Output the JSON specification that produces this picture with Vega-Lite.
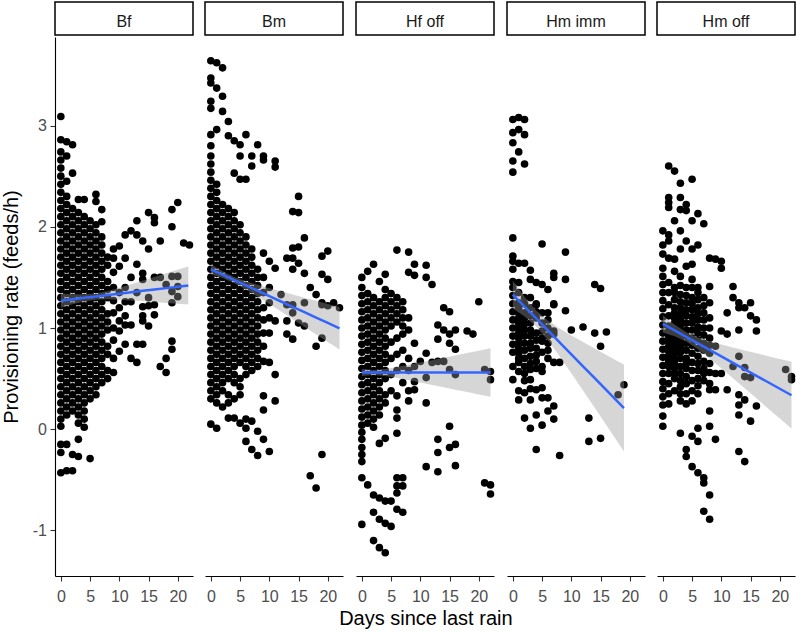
{
"$schema":"https://vega.github.io/schema/vega-lite/v6.json",
"padding":{"left":1,"top":1,"right":0,"bottom":0},
"title":{"text":"Days since last rain","orient":"bottom","anchor":"middle","dx":27,"offset":5,"font":"Liberation Sans","fontSize":20,"fontWeight":"normal","color":"#000000"},
"config":{"view":{"stroke":null},"font":"Liberation Sans",
"axis":{"grid":false,"domainColor":"#000000","domainWidth":1.1,"tickColor":"#333333","tickWidth":1.1,"tickSize":5,"labelFont":"Liberation Sans","labelFontSize":16,"labelColor":"#4D4D4D","labelFlush":false,"labelOverlap":false,"titleFont":"Liberation Sans","titleFontSize":20,"titleFontWeight":"normal","titleColor":"#000000"}},
"datasets":{
"bf":[{"d":0,"r":0.03},{"d":0,"r":0.10},{"d":0,"r":0.18},{"d":0,"r":0.26},{"d":0,"r":0.34},{"d":0,"r":0.42},{"d":0,"r":0.50},{"d":0,"r":0.58},{"d":0,"r":0.66},{"d":0,"r":0.74},{"d":0,"r":0.82},{"d":0,"r":0.90},{"d":0,"r":0.98},{"d":0,"r":1.06},{"d":0,"r":1.14},{"d":0,"r":1.22},{"d":0,"r":1.30},{"d":0,"r":1.38},{"d":0,"r":1.46},{"d":0,"r":1.54},{"d":0,"r":1.62},{"d":0,"r":1.70},{"d":0,"r":1.78},{"d":0,"r":1.86},{"d":0,"r":1.94},{"d":0,"r":2.02},{"d":0,"r":2.10},{"d":0,"r":2.18},{"d":0,"r":2.26},{"d":0,"r":2.34},{"d":0,"r":2.42},{"d":0,"r":2.50},{"d":0,"r":2.58},{"d":0,"r":2.66},{"d":0,"r":2.74},{"d":0,"r":2.86},{"d":0,"r":3.09},{"d":0,"r":-0.15},{"d":0,"r":-0.23},{"d":0,"r":-0.43},
{"d":1,"r":-0.41},{"d":1,"r":-0.15},{"d":1,"r":0.14},{"d":1,"r":0.22},{"d":1,"r":0.30},{"d":1,"r":0.38},{"d":1,"r":0.46},{"d":1,"r":0.54},{"d":1,"r":0.62},{"d":1,"r":0.70},{"d":1,"r":0.78},{"d":1,"r":0.86},{"d":1,"r":0.94},{"d":1,"r":1.02},{"d":1,"r":1.10},{"d":1,"r":1.18},{"d":1,"r":1.26},{"d":1,"r":1.34},{"d":1,"r":1.42},{"d":1,"r":1.50},{"d":1,"r":1.58},{"d":1,"r":1.66},{"d":1,"r":1.74},{"d":1,"r":1.82},{"d":1,"r":1.90},{"d":1,"r":1.98},{"d":1,"r":2.06},{"d":1,"r":2.14},{"d":1,"r":2.22},{"d":1,"r":2.30},{"d":1,"r":2.45},{"d":1,"r":2.70},{"d":1,"r":2.84},
{"d":2,"r":-0.41},{"d":2,"r":-0.25},{"d":2,"r":0.18},{"d":2,"r":0.26},{"d":2,"r":0.34},{"d":2,"r":0.42},{"d":2,"r":0.50},{"d":2,"r":0.58},{"d":2,"r":0.66},{"d":2,"r":0.74},{"d":2,"r":0.82},{"d":2,"r":0.90},{"d":2,"r":0.98},{"d":2,"r":1.06},{"d":2,"r":1.14},{"d":2,"r":1.22},{"d":2,"r":1.30},{"d":2,"r":1.38},{"d":2,"r":1.46},{"d":2,"r":1.54},{"d":2,"r":1.62},{"d":2,"r":1.70},{"d":2,"r":1.78},{"d":2,"r":1.86},{"d":2,"r":1.94},{"d":2,"r":2.02},{"d":2,"r":2.10},{"d":2,"r":2.18},{"d":2,"r":2.53},{"d":2,"r":2.81},
{"d":3,"r":-0.27},{"d":3,"r":-0.10},{"d":3,"r":0.06},{"d":3,"r":0.14},{"d":3,"r":0.22},{"d":3,"r":0.30},{"d":3,"r":0.38},{"d":3,"r":0.46},{"d":3,"r":0.54},{"d":3,"r":0.62},{"d":3,"r":0.70},{"d":3,"r":0.78},{"d":3,"r":0.86},{"d":3,"r":0.94},{"d":3,"r":1.02},{"d":3,"r":1.10},{"d":3,"r":1.18},{"d":3,"r":1.26},{"d":3,"r":1.34},{"d":3,"r":1.42},{"d":3,"r":1.50},{"d":3,"r":1.58},{"d":3,"r":1.66},{"d":3,"r":1.74},{"d":3,"r":1.82},{"d":3,"r":1.90},{"d":3,"r":1.98},{"d":3,"r":2.06},{"d":3,"r":2.14},{"d":3,"r":2.27},
{"d":4,"r":0.02},{"d":4,"r":0.10},{"d":4,"r":0.18},{"d":4,"r":0.26},{"d":4,"r":0.34},{"d":4,"r":0.42},{"d":4,"r":0.50},{"d":4,"r":0.58},{"d":4,"r":0.66},{"d":4,"r":0.74},{"d":4,"r":0.82},{"d":4,"r":0.90},{"d":4,"r":0.98},{"d":4,"r":1.06},{"d":4,"r":1.14},{"d":4,"r":1.22},{"d":4,"r":1.30},{"d":4,"r":1.38},{"d":4,"r":1.46},{"d":4,"r":1.54},{"d":4,"r":1.62},{"d":4,"r":1.70},{"d":4,"r":1.78},{"d":4,"r":1.86},{"d":4,"r":1.94},{"d":4,"r":2.02},{"d":4,"r":2.10},{"d":4,"r":2.27},
{"d":5,"r":-0.29},{"d":5,"r":0.30},{"d":5,"r":0.38},{"d":5,"r":0.46},{"d":5,"r":0.54},{"d":5,"r":0.62},{"d":5,"r":0.70},{"d":5,"r":0.78},{"d":5,"r":0.86},{"d":5,"r":0.94},{"d":5,"r":1.02},{"d":5,"r":1.10},{"d":5,"r":1.18},{"d":5,"r":1.26},{"d":5,"r":1.34},{"d":5,"r":1.42},{"d":5,"r":1.50},{"d":5,"r":1.58},{"d":5,"r":1.66},{"d":5,"r":1.74},{"d":5,"r":1.82},{"d":5,"r":1.90},{"d":5,"r":1.98},{"d":5,"r":2.06},
{"d":6,"r":0.34},{"d":6,"r":0.42},{"d":6,"r":0.50},{"d":6,"r":0.58},{"d":6,"r":0.66},{"d":6,"r":0.74},{"d":6,"r":0.82},{"d":6,"r":0.90},{"d":6,"r":0.98},{"d":6,"r":1.06},{"d":6,"r":1.14},{"d":6,"r":1.22},{"d":6,"r":1.30},{"d":6,"r":1.38},{"d":6,"r":1.46},{"d":6,"r":1.54},{"d":6,"r":1.62},{"d":6,"r":1.70},{"d":6,"r":1.78},{"d":6,"r":1.86},{"d":6,"r":1.94},{"d":6,"r":2.02},{"d":6,"r":2.25},{"d":6,"r":2.32},
{"d":7,"r":0.46},{"d":7,"r":0.54},{"d":7,"r":0.62},{"d":7,"r":0.70},{"d":7,"r":0.78},{"d":7,"r":0.86},{"d":7,"r":0.94},{"d":7,"r":1.02},{"d":7,"r":1.10},{"d":7,"r":1.18},{"d":7,"r":1.26},{"d":7,"r":1.34},{"d":7,"r":1.42},{"d":7,"r":1.50},{"d":7,"r":1.58},{"d":7,"r":1.66},{"d":7,"r":1.74},{"d":7,"r":1.82},{"d":7,"r":1.90},{"d":7,"r":2.05},{"d":7,"r":2.17},
{"d":8,"r":0.50},{"d":8,"r":0.58},{"d":8,"r":0.74},{"d":8,"r":0.82},{"d":8,"r":0.98},{"d":8,"r":1.06},{"d":8,"r":1.14},{"d":8,"r":1.30},{"d":8,"r":1.38},{"d":8,"r":1.46},{"d":8,"r":1.62},{"d":8,"r":1.70},
{"d":9,"r":0.56},{"d":9,"r":0.70},{"d":9,"r":0.88},{"d":9,"r":1.00},{"d":9,"r":1.15},{"d":9,"r":1.27},{"d":9,"r":1.40},{"d":9,"r":1.55},{"d":9,"r":1.69},{"d":9,"r":1.78},
{"d":10,"r":0.77},{"d":10,"r":0.97},{"d":10,"r":1.07},{"d":10,"r":1.20},{"d":10,"r":1.35},{"d":10,"r":1.61},{"d":10,"r":1.81},
{"d":11,"r":0.84},{"d":11,"r":1.03},{"d":11,"r":1.12},{"d":11,"r":1.26},{"d":11,"r":1.40},{"d":11,"r":1.69},{"d":11,"r":1.92},
{"d":12,"r":0.70},{"d":12,"r":1.03},{"d":12,"r":1.26},{"d":12,"r":1.50},{"d":12,"r":1.96},
{"d":13,"r":0.66},{"d":13,"r":0.84},{"d":13,"r":1.35},{"d":13,"r":1.63},{"d":13,"r":1.92},{"d":13,"r":2.06},
{"d":14,"r":0.84},{"d":14,"r":1.07},{"d":14,"r":1.12},{"d":14,"r":1.21},{"d":14,"r":1.48},{"d":14,"r":1.54},{"d":14,"r":1.86},
{"d":15,"r":1.02},{"d":15,"r":1.22},{"d":15,"r":1.30},{"d":15,"r":1.78},{"d":15,"r":2.14},
{"d":16,"r":1.13},{"d":16,"r":1.23},{"d":16,"r":1.50},{"d":16,"r":2.04},{"d":16,"r":2.09},
{"d":17,"r":0.62},{"d":17,"r":1.50},{"d":17,"r":1.86},
{"d":18,"r":0.56},{"d":18,"r":0.70},{"d":18,"r":1.43},
{"d":19,"r":0.79},{"d":19,"r":0.87},{"d":19,"r":1.25},{"d":19,"r":1.36},{"d":19,"r":1.51},{"d":19,"r":2.00},{"d":19,"r":2.17},
{"d":20,"r":1.31},{"d":20,"r":1.41},{"d":20,"r":1.51},{"d":20,"r":2.24},
{"d":21,"r":1.84},{"d":22,"r":1.82}],
"bm":[{"d":0,"r":0.05},{"d":0,"r":0.30},{"d":0,"r":0.38},{"d":0,"r":0.46},{"d":0,"r":0.54},{"d":0,"r":0.62},{"d":0,"r":0.70},{"d":0,"r":0.78},{"d":0,"r":0.86},{"d":0,"r":0.94},{"d":0,"r":1.02},{"d":0,"r":1.10},{"d":0,"r":1.18},{"d":0,"r":1.26},{"d":0,"r":1.34},{"d":0,"r":1.42},{"d":0,"r":1.50},{"d":0,"r":1.58},{"d":0,"r":1.66},{"d":0,"r":1.74},{"d":0,"r":1.82},{"d":0,"r":1.90},{"d":0,"r":1.98},{"d":0,"r":2.06},{"d":0,"r":2.14},{"d":0,"r":2.22},{"d":0,"r":2.30},{"d":0,"r":2.38},{"d":0,"r":2.46},{"d":0,"r":2.54},{"d":0,"r":2.62},{"d":0,"r":2.70},{"d":0,"r":2.80},{"d":0,"r":2.91},{"d":0,"r":3.17},{"d":0,"r":3.24},{"d":0,"r":3.42},{"d":0,"r":3.47},{"d":0,"r":3.64},
{"d":1,"r":0.01},{"d":1,"r":0.26},{"d":1,"r":0.34},{"d":1,"r":0.42},{"d":1,"r":0.50},{"d":1,"r":0.58},{"d":1,"r":0.66},{"d":1,"r":0.74},{"d":1,"r":0.82},{"d":1,"r":0.90},{"d":1,"r":0.98},{"d":1,"r":1.06},{"d":1,"r":1.14},{"d":1,"r":1.22},{"d":1,"r":1.30},{"d":1,"r":1.38},{"d":1,"r":1.46},{"d":1,"r":1.54},{"d":1,"r":1.62},{"d":1,"r":1.70},{"d":1,"r":1.78},{"d":1,"r":1.86},{"d":1,"r":1.94},{"d":1,"r":2.02},{"d":1,"r":2.10},{"d":1,"r":2.18},{"d":1,"r":2.26},{"d":1,"r":2.34},{"d":1,"r":2.42},{"d":1,"r":2.96},{"d":1,"r":3.37},{"d":1,"r":3.62},
{"d":2,"r":0.22},{"d":2,"r":0.38},{"d":2,"r":0.46},{"d":2,"r":0.54},{"d":2,"r":0.62},{"d":2,"r":0.70},{"d":2,"r":0.78},{"d":2,"r":0.86},{"d":2,"r":0.94},{"d":2,"r":1.02},{"d":2,"r":1.10},{"d":2,"r":1.18},{"d":2,"r":1.26},{"d":2,"r":1.34},{"d":2,"r":1.42},{"d":2,"r":1.50},{"d":2,"r":1.58},{"d":2,"r":1.66},{"d":2,"r":1.74},{"d":2,"r":1.82},{"d":2,"r":1.90},{"d":2,"r":1.98},{"d":2,"r":2.06},{"d":2,"r":2.14},{"d":2,"r":2.22},{"d":2,"r":3.14},{"d":2,"r":3.29},{"d":2,"r":3.57},
{"d":3,"r":0.11},{"d":3,"r":0.26},{"d":3,"r":0.34},{"d":3,"r":0.50},{"d":3,"r":0.58},{"d":3,"r":0.66},{"d":3,"r":0.74},{"d":3,"r":0.82},{"d":3,"r":0.90},{"d":3,"r":0.98},{"d":3,"r":1.06},{"d":3,"r":1.14},{"d":3,"r":1.22},{"d":3,"r":1.30},{"d":3,"r":1.38},{"d":3,"r":1.46},{"d":3,"r":1.54},{"d":3,"r":1.62},{"d":3,"r":1.70},{"d":3,"r":1.78},{"d":3,"r":1.86},{"d":3,"r":1.94},{"d":3,"r":2.02},{"d":3,"r":2.10},{"d":3,"r":2.18},{"d":3,"r":2.90},{"d":3,"r":3.04},
{"d":4,"r":0.11},{"d":4,"r":0.30},{"d":4,"r":0.46},{"d":4,"r":0.54},{"d":4,"r":0.62},{"d":4,"r":0.70},{"d":4,"r":0.78},{"d":4,"r":0.86},{"d":4,"r":0.94},{"d":4,"r":1.02},{"d":4,"r":1.10},{"d":4,"r":1.18},{"d":4,"r":1.26},{"d":4,"r":1.34},{"d":4,"r":1.42},{"d":4,"r":1.50},{"d":4,"r":1.58},{"d":4,"r":1.66},{"d":4,"r":1.74},{"d":4,"r":1.82},{"d":4,"r":1.90},{"d":4,"r":1.98},{"d":4,"r":2.06},{"d":4,"r":2.14},{"d":4,"r":2.53},{"d":4,"r":2.85},
{"d":5,"r":0.06},{"d":5,"r":0.34},{"d":5,"r":0.42},{"d":5,"r":0.50},{"d":5,"r":0.66},{"d":5,"r":0.74},{"d":5,"r":0.82},{"d":5,"r":0.90},{"d":5,"r":0.98},{"d":5,"r":1.06},{"d":5,"r":1.14},{"d":5,"r":1.22},{"d":5,"r":1.30},{"d":5,"r":1.38},{"d":5,"r":1.46},{"d":5,"r":1.54},{"d":5,"r":1.62},{"d":5,"r":1.70},{"d":5,"r":1.78},{"d":5,"r":1.86},{"d":5,"r":1.94},{"d":5,"r":2.02},{"d":5,"r":2.47},{"d":5,"r":2.70},{"d":5,"r":2.81},
{"d":6,"r":-0.12},{"d":6,"r":0.01},{"d":6,"r":0.10},{"d":6,"r":0.54},{"d":6,"r":0.62},{"d":6,"r":0.70},{"d":6,"r":0.78},{"d":6,"r":0.86},{"d":6,"r":0.94},{"d":6,"r":1.02},{"d":6,"r":1.10},{"d":6,"r":1.18},{"d":6,"r":1.26},{"d":6,"r":1.34},{"d":6,"r":1.42},{"d":6,"r":1.50},{"d":6,"r":1.58},{"d":6,"r":1.66},{"d":6,"r":1.74},{"d":6,"r":1.82},{"d":6,"r":1.90},{"d":6,"r":2.47},{"d":6,"r":2.91},
{"d":7,"r":-0.20},{"d":7,"r":0.08},{"d":7,"r":0.58},{"d":7,"r":0.66},{"d":7,"r":0.74},{"d":7,"r":0.82},{"d":7,"r":0.90},{"d":7,"r":0.98},{"d":7,"r":1.06},{"d":7,"r":1.14},{"d":7,"r":1.22},{"d":7,"r":1.30},{"d":7,"r":1.38},{"d":7,"r":1.46},{"d":7,"r":1.54},{"d":7,"r":1.62},{"d":7,"r":1.70},{"d":7,"r":1.78},{"d":7,"r":2.60},{"d":7,"r":2.70},
{"d":8,"r":-0.26},{"d":8,"r":-0.02},{"d":8,"r":0.62},{"d":8,"r":0.70},{"d":8,"r":0.78},{"d":8,"r":0.86},{"d":8,"r":0.94},{"d":8,"r":1.02},{"d":8,"r":1.10},{"d":8,"r":1.18},{"d":8,"r":1.26},{"d":8,"r":1.34},{"d":8,"r":1.42},{"d":8,"r":1.50},{"d":8,"r":1.58},{"d":8,"r":2.81},
{"d":9,"r":-0.10},{"d":9,"r":0.19},{"d":9,"r":0.33},{"d":9,"r":0.67},{"d":9,"r":0.82},{"d":9,"r":0.95},{"d":9,"r":1.08},{"d":9,"r":1.20},{"d":9,"r":1.35},{"d":9,"r":1.50},{"d":9,"r":1.74},{"d":9,"r":2.66},{"d":9,"r":2.70},
{"d":10,"r":-0.22},{"d":10,"r":0.66},{"d":10,"r":0.95},{"d":10,"r":1.10},{"d":10,"r":1.25},{"d":10,"r":1.40},{"d":10,"r":1.66},
{"d":11,"r":0.28},{"d":11,"r":0.54},{"d":11,"r":1.07},{"d":11,"r":1.59},{"d":11,"r":2.59},{"d":11,"r":2.65},
{"d":12,"r":1.33},
{"d":13,"r":0.94},{"d":13,"r":1.07},{"d":13,"r":1.23},{"d":13,"r":1.69},
{"d":14,"r":0.89},{"d":14,"r":1.15},{"d":14,"r":1.23},{"d":14,"r":1.58},{"d":14,"r":1.69},{"d":14,"r":1.79},{"d":14,"r":2.15},
{"d":15,"r":1.05},{"d":15,"r":1.64},{"d":15,"r":1.80},{"d":15,"r":2.14},{"d":15,"r":2.30},
{"d":16,"r":1.02},{"d":16,"r":1.25},{"d":16,"r":1.54},{"d":16,"r":1.89},
{"d":17,"r":-0.46},{"d":17,"r":1.40},
{"d":18,"r":-0.58},{"d":18,"r":0.82},{"d":18,"r":1.33},
{"d":19,"r":-0.25},{"d":19,"r":0.90},{"d":19,"r":1.23},{"d":19,"r":1.25},{"d":19,"r":1.53},{"d":19,"r":1.71},
{"d":20,"r":1.22},{"d":20,"r":1.48},{"d":20,"r":1.76},
{"d":21,"r":1.25},{"d":22,"r":1.20}],
"hf":[{"d":0,"r":-0.94},{"d":0,"r":-0.48},{"d":0,"r":-0.32},{"d":0,"r":-0.25},{"d":0,"r":-0.18},{"d":0,"r":-0.10},{"d":0,"r":-0.03},{"d":0,"r":0.04},{"d":0,"r":0.12},{"d":0,"r":0.20},{"d":0,"r":0.28},{"d":0,"r":0.36},{"d":0,"r":0.44},{"d":0,"r":0.52},{"d":0,"r":0.60},{"d":0,"r":0.68},{"d":0,"r":0.76},{"d":0,"r":0.84},{"d":0,"r":0.92},{"d":0,"r":1.00},{"d":0,"r":1.08},{"d":0,"r":1.16},{"d":0,"r":1.24},{"d":0,"r":1.32},{"d":0,"r":1.40},{"d":0,"r":1.50},
{"d":1,"r":-0.55},{"d":1,"r":0.06},{"d":1,"r":0.14},{"d":1,"r":0.22},{"d":1,"r":0.30},{"d":1,"r":0.38},{"d":1,"r":0.46},{"d":1,"r":0.54},{"d":1,"r":0.62},{"d":1,"r":0.70},{"d":1,"r":0.78},{"d":1,"r":0.86},{"d":1,"r":0.94},{"d":1,"r":1.02},{"d":1,"r":1.10},{"d":1,"r":1.18},{"d":1,"r":1.26},{"d":1,"r":1.34},{"d":1,"r":1.56},
{"d":2,"r":-1.10},{"d":2,"r":-0.82},{"d":2,"r":-0.65},{"d":2,"r":0.02},{"d":2,"r":0.10},{"d":2,"r":0.18},{"d":2,"r":0.26},{"d":2,"r":0.34},{"d":2,"r":0.42},{"d":2,"r":0.50},{"d":2,"r":0.58},{"d":2,"r":0.66},{"d":2,"r":0.74},{"d":2,"r":0.82},{"d":2,"r":0.90},{"d":2,"r":0.98},{"d":2,"r":1.06},{"d":2,"r":1.14},{"d":2,"r":1.22},{"d":2,"r":1.30},{"d":2,"r":1.63},
{"d":3,"r":-1.17},{"d":3,"r":-0.89},{"d":3,"r":-0.68},{"d":3,"r":-0.14},{"d":3,"r":0.14},{"d":3,"r":0.22},{"d":3,"r":0.30},{"d":3,"r":0.38},{"d":3,"r":0.46},{"d":3,"r":0.54},{"d":3,"r":0.62},{"d":3,"r":0.70},{"d":3,"r":0.78},{"d":3,"r":0.86},{"d":3,"r":0.94},{"d":3,"r":1.02},{"d":3,"r":1.10},{"d":3,"r":1.18},{"d":3,"r":1.26},{"d":3,"r":1.46},
{"d":4,"r":-1.22},{"d":4,"r":-0.93},{"d":4,"r":-0.71},{"d":4,"r":-0.09},{"d":4,"r":0.26},{"d":4,"r":0.34},{"d":4,"r":0.50},{"d":4,"r":0.58},{"d":4,"r":0.66},{"d":4,"r":0.74},{"d":4,"r":0.82},{"d":4,"r":0.90},{"d":4,"r":0.98},{"d":4,"r":1.06},{"d":4,"r":1.14},{"d":4,"r":1.22},{"d":4,"r":1.30},{"d":4,"r":1.38},{"d":4,"r":1.53},
{"d":5,"r":-0.96},{"d":5,"r":-0.71},{"d":5,"r":0.38},{"d":5,"r":0.54},{"d":5,"r":0.70},{"d":5,"r":0.86},{"d":5,"r":1.02},{"d":5,"r":1.10},{"d":5,"r":1.18},{"d":5,"r":1.26},{"d":5,"r":1.34},
{"d":6,"r":-0.79},{"d":6,"r":-0.63},{"d":6,"r":-0.56},{"d":6,"r":-0.48},{"d":6,"r":-0.04},{"d":6,"r":0.11},{"d":6,"r":0.19},{"d":6,"r":0.33},{"d":6,"r":0.58},{"d":6,"r":0.74},{"d":6,"r":0.90},{"d":6,"r":1.06},{"d":6,"r":1.14},{"d":6,"r":1.22},{"d":6,"r":1.30},{"d":6,"r":1.77},
{"d":7,"r":-0.82},{"d":7,"r":-0.56},{"d":7,"r":-0.48},{"d":7,"r":0.46},{"d":7,"r":0.62},{"d":7,"r":0.78},{"d":7,"r":0.94},{"d":7,"r":1.02},{"d":7,"r":1.10},{"d":7,"r":1.18},{"d":7,"r":1.26},
{"d":8,"r":0.28},{"d":8,"r":0.38},{"d":8,"r":0.58},{"d":8,"r":0.70},{"d":8,"r":0.98},{"d":8,"r":1.10},{"d":8,"r":1.55},{"d":8,"r":1.75},
{"d":9,"r":0.39},{"d":9,"r":0.47},{"d":9,"r":0.62},{"d":9,"r":0.85},{"d":9,"r":1.52},{"d":9,"r":1.63},
{"d":10,"r":0.67},
{"d":11,"r":-0.37},{"d":11,"r":0.26},{"d":11,"r":0.51},{"d":11,"r":0.75},{"d":11,"r":1.50},{"d":11,"r":1.62},
{"d":12,"r":0.66},{"d":12,"r":1.43},
{"d":13,"r":-0.42},{"d":13,"r":-0.23},{"d":13,"r":-0.10},{"d":13,"r":0.67},{"d":13,"r":0.89},{"d":13,"r":1.03},
{"d":14,"r":0.67},{"d":14,"r":0.98},{"d":14,"r":1.20},
{"d":15,"r":-0.18},{"d":15,"r":0.03},{"d":15,"r":0.59},{"d":15,"r":0.85},{"d":15,"r":0.94},{"d":15,"r":1.16},
{"d":16,"r":-0.36},{"d":16,"r":-0.15},{"d":16,"r":0.54},{"d":16,"r":0.79},{"d":16,"r":0.98},
{"d":18,"r":0.97},{"d":19,"r":0.94},{"d":20,"r":1.26},
{"d":21,"r":-0.53},{"d":21,"r":0.59},
{"d":22,"r":-0.64},{"d":22,"r":-0.55},{"d":22,"r":0.49},{"d":22,"r":0.57}],
"hi":[{"d":0,"r":3.06},{"d":0,"r":2.93},{"d":0,"r":2.83},{"d":0,"r":2.65},{"d":0,"r":2.54},{"d":0,"r":1.89},{"d":0,"r":1.71},{"d":0,"r":1.66},{"d":0,"r":1.58},{"d":0,"r":1.46},{"d":0,"r":1.40},{"d":0,"r":1.32},{"d":0,"r":1.24},{"d":0,"r":1.16},{"d":0,"r":1.08},{"d":0,"r":1.00},{"d":0,"r":0.92},{"d":0,"r":0.84},{"d":0,"r":0.76},{"d":0,"r":0.62},{"d":0,"r":0.49},
{"d":1,"r":3.08},{"d":1,"r":2.96},{"d":1,"r":2.74},{"d":1,"r":1.64},{"d":1,"r":1.45},{"d":1,"r":1.35},{"d":1,"r":1.25},{"d":1,"r":1.15},{"d":1,"r":1.05},{"d":1,"r":0.95},{"d":1,"r":0.85},{"d":1,"r":0.75},{"d":1,"r":0.66},{"d":1,"r":0.57},{"d":1,"r":0.38},{"d":1,"r":0.29},{"d":1,"r":1.20},{"d":1,"r":1.10},{"d":1,"r":1.00},{"d":1,"r":0.90},{"d":1,"r":0.80},{"d":1,"r":0.70},
{"d":2,"r":3.06},{"d":2,"r":2.91},{"d":2,"r":2.62},{"d":2,"r":1.64},{"d":2,"r":1.30},{"d":2,"r":1.15},{"d":2,"r":1.10},{"d":2,"r":0.98},{"d":2,"r":0.85},{"d":2,"r":0.70},{"d":2,"r":0.62},{"d":2,"r":0.55},{"d":2,"r":0.36},{"d":2,"r":0.11},{"d":2,"r":1.24},{"d":2,"r":1.04},{"d":2,"r":0.92},{"d":2,"r":0.78},{"d":2,"r":0.48},
{"d":3,"r":1.57},{"d":3,"r":1.48},{"d":3,"r":1.20},{"d":3,"r":1.12},{"d":3,"r":1.05},{"d":3,"r":0.92},{"d":3,"r":0.85},{"d":3,"r":0.80},{"d":3,"r":0.59},{"d":3,"r":0.49},{"d":3,"r":0.29},{"d":3,"r":0.01},{"d":3,"r":1.30},{"d":3,"r":0.98},{"d":3,"r":0.72},{"d":3,"r":0.65},{"d":3,"r":0.40},
{"d":4,"r":1.45},{"d":4,"r":1.24},{"d":4,"r":1.23},{"d":4,"r":1.10},{"d":4,"r":0.88},{"d":4,"r":0.80},{"d":4,"r":0.67},{"d":4,"r":0.39},{"d":4,"r":0.14},{"d":4,"r":-0.20},{"d":4,"r":1.16},{"d":4,"r":0.95},{"d":4,"r":0.73},{"d":4,"r":0.60},
{"d":5,"r":1.83},{"d":5,"r":1.43},{"d":5,"r":1.15},{"d":5,"r":0.90},{"d":5,"r":0.87},{"d":5,"r":0.62},{"d":5,"r":0.57},{"d":5,"r":0.41},{"d":5,"r":0.31},{"d":5,"r":0.04},{"d":5,"r":1.05},{"d":5,"r":0.97},{"d":5,"r":0.76},
{"d":6,"r":1.38},{"d":6,"r":1.08},{"d":6,"r":0.92},{"d":6,"r":0.85},{"d":6,"r":0.70},{"d":6,"r":0.31},{"d":6,"r":0.18},{"d":6,"r":1.15},{"d":6,"r":1.00},{"d":6,"r":0.78},
{"d":7,"r":1.54},{"d":7,"r":1.50},{"d":7,"r":1.24},{"d":7,"r":1.23},{"d":7,"r":0.97},{"d":7,"r":0.94},{"d":7,"r":0.66},{"d":7,"r":0.23},{"d":7,"r":0.10},
{"d":8,"r":0.66},{"d":8,"r":-0.26},
{"d":9,"r":1.75},{"d":9,"r":1.48},{"d":9,"r":1.17},
{"d":10,"r":0.98},{"d":12,"r":1.01},
{"d":13,"r":0.11},{"d":13,"r":-0.12},
{"d":14,"r":1.43},{"d":14,"r":0.95},
{"d":15,"r":1.39},{"d":15,"r":0.82},{"d":15,"r":-0.09},
{"d":16,"r":0.96},{"d":18,"r":0.34},{"d":19,"r":0.44}],
"ho":[{"d":0,"r":1.96},{"d":0,"r":1.82},{"d":0,"r":1.73},{"d":0,"r":1.59},{"d":0,"r":1.51},{"d":0,"r":1.43},{"d":0,"r":1.35},{"d":0,"r":1.27},{"d":0,"r":1.19},{"d":0,"r":1.11},{"d":0,"r":1.03},{"d":0,"r":0.95},{"d":0,"r":0.87},{"d":0,"r":0.79},{"d":0,"r":0.71},{"d":0,"r":0.63},{"d":0,"r":0.55},{"d":0,"r":0.47},{"d":0,"r":0.40},{"d":0,"r":0.32},{"d":0,"r":0.24},{"d":0,"r":0.13},{"d":0,"r":0.03},
{"d":1,"r":2.60},{"d":1,"r":2.29},{"d":1,"r":2.24},{"d":1,"r":2.19},{"d":1,"r":1.92},{"d":1,"r":1.86},{"d":1,"r":1.69},{"d":1,"r":1.45},{"d":1,"r":1.23},{"d":1,"r":1.12},{"d":1,"r":1.02},{"d":1,"r":0.92},{"d":1,"r":0.82},{"d":1,"r":0.72},{"d":1,"r":0.62},{"d":1,"r":0.45},{"d":1,"r":0.35},{"d":1,"r":0.25},{"d":1,"r":1.35},{"d":1,"r":0.97},{"d":1,"r":0.87},{"d":1,"r":0.77},{"d":1,"r":0.67},{"d":1,"r":0.55},
{"d":2,"r":2.55},{"d":2,"r":2.06},{"d":2,"r":1.68},{"d":2,"r":1.56},{"d":2,"r":1.40},{"d":2,"r":1.28},{"d":2,"r":1.15},{"d":2,"r":1.05},{"d":2,"r":0.95},{"d":2,"r":0.85},{"d":2,"r":0.70},{"d":2,"r":0.60},{"d":2,"r":0.50},{"d":2,"r":0.38},{"d":2,"r":1.35},{"d":2,"r":1.20},{"d":2,"r":1.10},{"d":2,"r":1.00},{"d":2,"r":0.90},{"d":2,"r":0.80},{"d":2,"r":0.75},{"d":2,"r":0.65},{"d":2,"r":0.55},
{"d":3,"r":2.43},{"d":3,"r":2.29},{"d":3,"r":2.17},{"d":3,"r":1.96},{"d":3,"r":1.78},{"d":3,"r":1.51},{"d":3,"r":1.33},{"d":3,"r":1.20},{"d":3,"r":1.08},{"d":3,"r":0.98},{"d":3,"r":0.88},{"d":3,"r":0.76},{"d":3,"r":0.55},{"d":3,"r":0.42},{"d":3,"r":0.28},{"d":3,"r":-0.04},{"d":3,"r":1.42},{"d":3,"r":1.26},{"d":3,"r":1.14},{"d":3,"r":1.03},{"d":3,"r":0.93},{"d":3,"r":0.82},{"d":3,"r":0.70},{"d":3,"r":0.62},{"d":3,"r":0.48},{"d":3,"r":0.35},
{"d":4,"r":2.22},{"d":4,"r":2.16},{"d":4,"r":1.86},{"d":4,"r":1.61},{"d":4,"r":1.40},{"d":4,"r":1.25},{"d":4,"r":1.12},{"d":4,"r":0.98},{"d":4,"r":0.85},{"d":4,"r":0.70},{"d":4,"r":0.60},{"d":4,"r":0.45},{"d":4,"r":0.35},{"d":4,"r":0.25},{"d":4,"r":-0.20},{"d":4,"r":-0.27},{"d":4,"r":1.32},{"d":4,"r":1.18},{"d":4,"r":1.05},{"d":4,"r":0.92},{"d":4,"r":0.78},{"d":4,"r":0.65},{"d":4,"r":0.52},
{"d":5,"r":2.47},{"d":5,"r":2.06},{"d":5,"r":1.78},{"d":5,"r":1.63},{"d":5,"r":1.48},{"d":5,"r":1.30},{"d":5,"r":1.18},{"d":5,"r":1.05},{"d":5,"r":0.90},{"d":5,"r":0.75},{"d":5,"r":0.58},{"d":5,"r":0.48},{"d":5,"r":0.38},{"d":5,"r":0.28},{"d":5,"r":-0.07},{"d":5,"r":-0.37},{"d":5,"r":1.40},{"d":5,"r":1.24},{"d":5,"r":1.11},{"d":5,"r":0.98},{"d":5,"r":0.83},{"d":5,"r":0.66},
{"d":6,"r":2.13},{"d":6,"r":1.82},{"d":6,"r":1.40},{"d":6,"r":1.35},{"d":6,"r":1.20},{"d":6,"r":1.08},{"d":6,"r":0.95},{"d":6,"r":0.80},{"d":6,"r":0.65},{"d":6,"r":0.50},{"d":6,"r":0.35},{"d":6,"r":0.01},{"d":6,"r":-0.12},{"d":6,"r":-0.43},{"d":6,"r":1.28},{"d":6,"r":1.14},{"d":6,"r":1.01},{"d":6,"r":0.88},{"d":6,"r":0.72},{"d":6,"r":0.58},{"d":6,"r":0.43},
{"d":7,"r":2.03},{"d":7,"r":1.30},{"d":7,"r":1.15},{"d":7,"r":1.00},{"d":7,"r":0.85},{"d":7,"r":0.60},{"d":7,"r":0.55},{"d":7,"r":0.48},{"d":7,"r":-0.48},{"d":7,"r":-0.53},{"d":7,"r":-0.81},{"d":7,"r":1.22},{"d":7,"r":1.08},{"d":7,"r":0.93},{"d":7,"r":0.78},{"d":7,"r":0.67},
{"d":8,"r":1.69},{"d":8,"r":1.41},{"d":8,"r":1.10},{"d":8,"r":0.90},{"d":8,"r":0.75},{"d":8,"r":0.56},{"d":8,"r":0.45},{"d":8,"r":0.39},{"d":8,"r":0.18},{"d":8,"r":0.03},{"d":8,"r":-0.65},{"d":8,"r":-0.89},{"d":8,"r":1.25},{"d":8,"r":1.00},{"d":8,"r":0.83},{"d":8,"r":0.65},
{"d":9,"r":1.68},{"d":9,"r":0.82},{"d":9,"r":0.55},{"d":9,"r":0.39},{"d":9,"r":-0.10},
{"d":10,"r":1.59},{"d":10,"r":1.66},{"d":10,"r":0.97},{"d":10,"r":0.55},
{"d":11,"r":1.15},{"d":11,"r":0.94},{"d":11,"r":0.39},
{"d":12,"r":1.41},{"d":12,"r":1.30},{"d":12,"r":0.62},
{"d":13,"r":1.25},{"d":13,"r":1.20},{"d":13,"r":0.98},{"d":13,"r":0.72},{"d":13,"r":0.34},{"d":13,"r":0.24},{"d":13,"r":0.14},{"d":13,"r":-0.22},
{"d":14,"r":1.20},{"d":14,"r":0.61},{"d":14,"r":0.52},{"d":14,"r":0.29},{"d":14,"r":-0.32},
{"d":15,"r":1.25},{"d":15,"r":1.12},{"d":15,"r":0.51},{"d":15,"r":0.08},
{"d":16,"r":1.08},{"d":16,"r":0.97},{"d":16,"r":0.23},
{"d":21,"r":0.59},{"d":22,"r":0.52},{"d":22,"r":0.49}],
"fbf":[{"d":0,"f":1.270,"lo":1.200,"hi":1.340},{"d":2,"f":1.284,"lo":1.234,"hi":1.334},{"d":4,"f":1.298,"lo":1.263,"hi":1.333},{"d":6,"f":1.311,"lo":1.280,"hi":1.342},{"d":8,"f":1.325,"lo":1.284,"hi":1.366},{"d":10,"f":1.339,"lo":1.280,"hi":1.398},{"d":12,"f":1.353,"lo":1.273,"hi":1.433},{"d":14,"f":1.367,"lo":1.266,"hi":1.468},{"d":16,"f":1.380,"lo":1.257,"hi":1.503},{"d":18,"f":1.394,"lo":1.248,"hi":1.540},{"d":20,"f":1.408,"lo":1.240,"hi":1.576},{"d":21.8,"f":1.420,"lo":1.232,"hi":1.608}],
"fbm":[{"d":0,"f":1.580,"lo":1.531,"hi":1.629},{"d":2,"f":1.527,"lo":1.493,"hi":1.561},{"d":4,"f":1.474,"lo":1.443,"hi":1.505},{"d":6,"f":1.421,"lo":1.380,"hi":1.462},{"d":8,"f":1.368,"lo":1.309,"hi":1.427},{"d":10,"f":1.315,"lo":1.236,"hi":1.394},{"d":12,"f":1.262,"lo":1.162,"hi":1.362},{"d":14,"f":1.209,"lo":1.087,"hi":1.331},{"d":16,"f":1.156,"lo":1.012,"hi":1.300},{"d":18,"f":1.103,"lo":0.937,"hi":1.269},{"d":20,"f":1.050,"lo":0.862,"hi":1.238},{"d":22,"f":0.997,"lo":0.787,"hi":1.207}],
"fhf":[{"d":0,"f":0.56,"lo":0.525,"hi":0.595},{"d":2,"f":0.56,"lo":0.535,"hi":0.585},{"d":4,"f":0.56,"lo":0.525,"hi":0.595},{"d":6,"f":0.56,"lo":0.506,"hi":0.614},{"d":8,"f":0.56,"lo":0.484,"hi":0.636},{"d":10,"f":0.56,"lo":0.461,"hi":0.659},{"d":12,"f":0.56,"lo":0.438,"hi":0.682},{"d":14,"f":0.56,"lo":0.415,"hi":0.705},{"d":16,"f":0.56,"lo":0.391,"hi":0.729},{"d":18,"f":0.56,"lo":0.367,"hi":0.753},{"d":20,"f":0.56,"lo":0.344,"hi":0.776},{"d":22,"f":0.56,"lo":0.320,"hi":0.800}],
"fhi":[{"d":0,"f":1.330,"lo":1.192,"hi":1.468},{"d":2,"f":1.212,"lo":1.114,"hi":1.310},{"d":4,"f":1.094,"lo":1.014,"hi":1.174},{"d":6,"f":0.976,"lo":0.878,"hi":1.074},{"d":8,"f":0.858,"lo":0.720,"hi":0.996},{"d":10,"f":0.740,"lo":0.553,"hi":0.927},{"d":12,"f":0.622,"lo":0.383,"hi":0.861},{"d":14,"f":0.504,"lo":0.211,"hi":0.797},{"d":16,"f":0.386,"lo":0.039,"hi":0.733},{"d":18,"f":0.268,"lo":-0.134,"hi":0.670},{"d":19,"f":0.209,"lo":-0.221,"hi":0.639}],
"fho":[{"d":0,"f":1.040,"lo":0.955,"hi":1.125},{"d":2,"f":0.976,"lo":0.918,"hi":1.034},{"d":4,"f":0.912,"lo":0.867,"hi":0.957},{"d":6,"f":0.848,"lo":0.790,"hi":0.906},{"d":8,"f":0.784,"lo":0.699,"hi":0.869},{"d":10,"f":0.720,"lo":0.602,"hi":0.838},{"d":12,"f":0.656,"lo":0.504,"hi":0.808},{"d":14,"f":0.592,"lo":0.405,"hi":0.779},{"d":16,"f":0.528,"lo":0.305,"hi":0.751},{"d":18,"f":0.464,"lo":0.206,"hi":0.722},{"d":20,"f":0.400,"lo":0.106,"hi":0.694},{"d":22,"f":0.336,"lo":0.006,"hi":0.666}],
"s1":[{"t":"Bf"}],"s2":[{"t":"Bm"}],"s3":[{"t":"Hf off"}],"s4":[{"t":"Hm imm"}],"s5":[{"t":"Hm off"}]
},
"spacing":10,
"hconcat":[
{"bounds":"flush","spacing":2,"vconcat":[
 {"width":138,"height":33,"data":{"name":"s1"},"view":{"stroke":"#000000","strokeWidth":1.5,"fill":"#ffffff"},"mark":{"type":"text","font":"Liberation Sans","fontSize":16,"color":"#1A1A1A","dy":3},"encoding":{"text":{"field":"t"}}},
 {"width":138,"height":539,"layer":[
  {"data":{"name":"bf"},"mark":{"type":"circle","size":58,"opacity":1,"color":"#000000"},"encoding":{"x":{"field":"d","type":"quantitative","scale":{"domain":[-1.0,22.6],"nice":false,"zero":false},"axis":{"values":[0,5,10,15,20],"title":null,"labelPadding":7}},"y":{"field":"r","type":"quantitative","scale":{"domain":[-1.45,3.875],"nice":false,"zero":false},"axis":{"values":[-1,0,1,2,3],"title":"Provisioning rate (feeds/h)","titlePadding":11,"labelPadding":3.5,"labelExpr":"replace(datum.label,'\u2212','-')"}}}},
  {"data":{"name":"fbf"},"mark":{"type":"area","color":"#999999","opacity":0.4},"encoding":{"x":{"field":"d","type":"quantitative","scale":{"domain":[-1.0,22.6],"nice":false,"zero":false},"axis":{"values":[0,5,10,15,20],"title":null,"labelPadding":7}},"y":{"field":"lo","type":"quantitative","scale":{"domain":[-1.45,3.875],"nice":false,"zero":false},"axis":{"values":[-1,0,1,2,3],"title":"Provisioning rate (feeds/h)","titlePadding":11,"labelPadding":3.5,"labelExpr":"replace(datum.label,'\u2212','-')"}},"y2":{"field":"hi"}}},
  {"data":{"name":"fbf"},"mark":{"type":"line","color":"#3366FF","strokeWidth":2.5},"encoding":{"x":{"field":"d","type":"quantitative","scale":{"domain":[-1.0,22.6],"nice":false,"zero":false},"axis":{"values":[0,5,10,15,20],"title":null,"labelPadding":7}},"y":{"field":"f","type":"quantitative","scale":{"domain":[-1.45,3.875],"nice":false,"zero":false},"axis":{"values":[-1,0,1,2,3],"title":"Provisioning rate (feeds/h)","titlePadding":11,"labelPadding":3.5,"labelExpr":"replace(datum.label,'\u2212','-')"}}}}
 ]}
]},
{"bounds":"flush","spacing":2,"vconcat":[
 {"width":138,"height":33,"data":{"name":"s2"},"view":{"stroke":"#000000","strokeWidth":1.5,"fill":"#ffffff"},"mark":{"type":"text","font":"Liberation Sans","fontSize":16,"color":"#1A1A1A","dy":3},"encoding":{"text":{"field":"t"}}},
 {"width":138,"height":539,"layer":[
  {"data":{"name":"bm"},"mark":{"type":"circle","size":58,"opacity":1,"color":"#000000"},"encoding":{"x":{"field":"d","type":"quantitative","scale":{"domain":[-1.0,22.6],"nice":false,"zero":false},"axis":{"values":[0,5,10,15,20],"title":null,"labelPadding":7}},"y":{"field":"r","type":"quantitative","scale":{"domain":[-1.45,3.875],"nice":false,"zero":false},"axis":null}}},
  {"data":{"name":"fbm"},"mark":{"type":"area","color":"#999999","opacity":0.4},"encoding":{"x":{"field":"d","type":"quantitative","scale":{"domain":[-1.0,22.6],"nice":false,"zero":false},"axis":{"values":[0,5,10,15,20],"title":null,"labelPadding":7}},"y":{"field":"lo","type":"quantitative","scale":{"domain":[-1.45,3.875],"nice":false,"zero":false},"axis":null},"y2":{"field":"hi"}}},
  {"data":{"name":"fbm"},"mark":{"type":"line","color":"#3366FF","strokeWidth":2.5},"encoding":{"x":{"field":"d","type":"quantitative","scale":{"domain":[-1.0,22.6],"nice":false,"zero":false},"axis":{"values":[0,5,10,15,20],"title":null,"labelPadding":7}},"y":{"field":"f","type":"quantitative","scale":{"domain":[-1.45,3.875],"nice":false,"zero":false},"axis":null}}}
 ]}
]},
{"bounds":"flush","spacing":2,"vconcat":[
 {"width":138,"height":33,"data":{"name":"s3"},"view":{"stroke":"#000000","strokeWidth":1.5,"fill":"#ffffff"},"mark":{"type":"text","font":"Liberation Sans","fontSize":16,"color":"#1A1A1A","dy":3},"encoding":{"text":{"field":"t"}}},
 {"width":138,"height":539,"layer":[
  {"data":{"name":"hf"},"mark":{"type":"circle","size":58,"opacity":1,"color":"#000000"},"encoding":{"x":{"field":"d","type":"quantitative","scale":{"domain":[-1.0,22.6],"nice":false,"zero":false},"axis":{"values":[0,5,10,15,20],"title":null,"labelPadding":7}},"y":{"field":"r","type":"quantitative","scale":{"domain":[-1.45,3.875],"nice":false,"zero":false},"axis":null}}},
  {"data":{"name":"fhf"},"mark":{"type":"area","color":"#999999","opacity":0.4},"encoding":{"x":{"field":"d","type":"quantitative","scale":{"domain":[-1.0,22.6],"nice":false,"zero":false},"axis":{"values":[0,5,10,15,20],"title":null,"labelPadding":7}},"y":{"field":"lo","type":"quantitative","scale":{"domain":[-1.45,3.875],"nice":false,"zero":false},"axis":null},"y2":{"field":"hi"}}},
  {"data":{"name":"fhf"},"mark":{"type":"line","color":"#3366FF","strokeWidth":2.5},"encoding":{"x":{"field":"d","type":"quantitative","scale":{"domain":[-1.0,22.6],"nice":false,"zero":false},"axis":{"values":[0,5,10,15,20],"title":null,"labelPadding":7}},"y":{"field":"f","type":"quantitative","scale":{"domain":[-1.45,3.875],"nice":false,"zero":false},"axis":null}}}
 ]}
]},
{"bounds":"flush","spacing":2,"vconcat":[
 {"width":138,"height":33,"data":{"name":"s4"},"view":{"stroke":"#000000","strokeWidth":1.5,"fill":"#ffffff"},"mark":{"type":"text","font":"Liberation Sans","fontSize":16,"color":"#1A1A1A","dy":3},"encoding":{"text":{"field":"t"}}},
 {"width":138,"height":539,"layer":[
  {"data":{"name":"hi"},"mark":{"type":"circle","size":58,"opacity":1,"color":"#000000"},"encoding":{"x":{"field":"d","type":"quantitative","scale":{"domain":[-1.0,22.6],"nice":false,"zero":false},"axis":{"values":[0,5,10,15,20],"title":null,"labelPadding":7}},"y":{"field":"r","type":"quantitative","scale":{"domain":[-1.45,3.875],"nice":false,"zero":false},"axis":null}}},
  {"data":{"name":"fhi"},"mark":{"type":"area","color":"#999999","opacity":0.4},"encoding":{"x":{"field":"d","type":"quantitative","scale":{"domain":[-1.0,22.6],"nice":false,"zero":false},"axis":{"values":[0,5,10,15,20],"title":null,"labelPadding":7}},"y":{"field":"lo","type":"quantitative","scale":{"domain":[-1.45,3.875],"nice":false,"zero":false},"axis":null},"y2":{"field":"hi"}}},
  {"data":{"name":"fhi"},"mark":{"type":"line","color":"#3366FF","strokeWidth":2.5},"encoding":{"x":{"field":"d","type":"quantitative","scale":{"domain":[-1.0,22.6],"nice":false,"zero":false},"axis":{"values":[0,5,10,15,20],"title":null,"labelPadding":7}},"y":{"field":"f","type":"quantitative","scale":{"domain":[-1.45,3.875],"nice":false,"zero":false},"axis":null}}}
 ]}
]},
{"bounds":"flush","spacing":2,"vconcat":[
 {"width":138,"height":33,"data":{"name":"s5"},"view":{"stroke":"#000000","strokeWidth":1.5,"fill":"#ffffff"},"mark":{"type":"text","font":"Liberation Sans","fontSize":16,"color":"#1A1A1A","dy":3},"encoding":{"text":{"field":"t"}}},
 {"width":138,"height":539,"layer":[
  {"data":{"name":"ho"},"mark":{"type":"circle","size":58,"opacity":1,"color":"#000000"},"encoding":{"x":{"field":"d","type":"quantitative","scale":{"domain":[-1.0,22.6],"nice":false,"zero":false},"axis":{"values":[0,5,10,15,20],"title":null,"labelPadding":7}},"y":{"field":"r","type":"quantitative","scale":{"domain":[-1.45,3.875],"nice":false,"zero":false},"axis":null}}},
  {"data":{"name":"fho"},"mark":{"type":"area","color":"#999999","opacity":0.4},"encoding":{"x":{"field":"d","type":"quantitative","scale":{"domain":[-1.0,22.6],"nice":false,"zero":false},"axis":{"values":[0,5,10,15,20],"title":null,"labelPadding":7}},"y":{"field":"lo","type":"quantitative","scale":{"domain":[-1.45,3.875],"nice":false,"zero":false},"axis":null},"y2":{"field":"hi"}}},
  {"data":{"name":"fho"},"mark":{"type":"line","color":"#3366FF","strokeWidth":2.5},"encoding":{"x":{"field":"d","type":"quantitative","scale":{"domain":[-1.0,22.6],"nice":false,"zero":false},"axis":{"values":[0,5,10,15,20],"title":null,"labelPadding":7}},"y":{"field":"f","type":"quantitative","scale":{"domain":[-1.45,3.875],"nice":false,"zero":false},"axis":null}}}
 ]}
]}
]
}
